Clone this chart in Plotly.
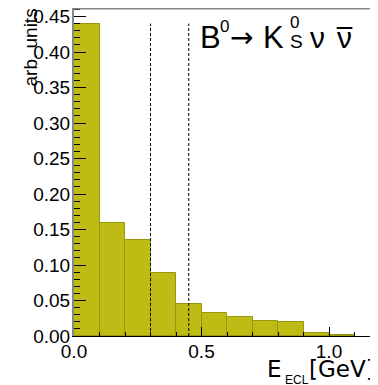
import plotly.graph_objects as go

# ---- data ----
bin_lo = [0.0, 0.1, 0.2, 0.3, 0.4, 0.5, 0.6, 0.7, 0.8, 0.9, 1.0]
bin_width = 0.1
values = [0.440, 0.159, 0.135, 0.089, 0.0455, 0.0325, 0.027, 0.021, 0.0197, 0.004, 0.0012]
cut_values = [0.30, 0.45]
cut_height = 0.44
y_ticks = [0.00, 0.05, 0.10, 0.15, 0.20, 0.25, 0.30, 0.35, 0.40, 0.45]
y_ticklabels = ["0.00", "0.05", "0.10", "0.15", "0.20", "0.25", "0.30", "0.35", "0.40", "0.45"]
x_ticks = [0.0, 0.5, 1.0]
x_ticklabels = ["0.0", "0.5", "1.0"]

# page geometry (the html body has an 8px margin)
OFF = 8
PAGE_W, PAGE_H = 378, 385
X0, X1, Y0, Y1 = 74, 378, 7.5, 336          # plot area in page pixels
W, H = PAGE_W - OFF, PAGE_H - OFF
ML, MR, MT, MB = X0 - OFF, 0, 0, H - (Y1 - OFF)
PW, PH = X1 - X0, Y1 - OFF
FONT = "Liberation Sans, Arial, sans-serif"

def px(x):
    return (x - X0) / PW

def py(y):
    return (Y1 - y) / PH

centers = [b + bin_width / 2 for b in bin_lo]

fig = go.Figure()
fig.add_trace(go.Bar(
    x=centers, y=values, width=[bin_width] * len(values),
    marker=dict(color="#BEBB14", line=dict(color="#99970E", width=1)),
    showlegend=False,
))

for c in cut_values:
    fig.add_shape(type="line", xref="x", yref="y", x0=c, x1=c, y0=0, y1=cut_height,
                  line=dict(color="black", width=1, dash="3px,2px"), layer="above")

# top frame
fig.add_shape(type="line", xref="paper", yref="paper", x0=0, x1=1, y0=1, y1=1,
              line=dict(color="#888888", width=3), layer="above")

fig.update_layout(
    width=W, height=H,
    margin=dict(l=ML, r=MR, t=MT, b=MB, pad=0, autoexpand=False),
    plot_bgcolor="white", paper_bgcolor="white",
    bargap=0,
    font=dict(family=FONT, size=19, color="black"),
    xaxis=dict(
        range=[0, PW / 255.0], showgrid=False, zeroline=False,
        showline=True, linecolor="black", linewidth=1,
        ticks="inside", ticklen=9, tickcolor="black", tickwidth=1,
        tickvals=x_ticks, ticktext=x_ticklabels,
        minor=dict(dtick=0.1, tick0=0, ticks="inside", ticklen=4, tickcolor="black", showgrid=False),
        tickfont=dict(size=19), automargin=False, ticklabeloverflow="allow",
        ticklabelstandoff=-2,
    ),
    yaxis=dict(
        range=[0, PH / 710.0], showgrid=False, zeroline=False,
        showline=True, linecolor="#888888", linewidth=2,
        ticks="inside", ticklen=12, tickcolor="black", tickwidth=1,
        tickvals=y_ticks, ticktext=y_ticklabels,
        minor=dict(dtick=0.01, tick0=0, ticks="inside", ticklen=6, tickcolor="black", showgrid=False),
        tickfont=dict(size=19), automargin=False, ticklabeloverflow="allow",
        ticklabelstandoff=-2,
    ),
)

def ann(text, x, y, size, xanchor="left", yanchor="middle", angle=0, family=FONT):
    fig.add_annotation(text=text, x=px(x), y=py(y), xref="paper", yref="paper",
                       xanchor=xanchor, yanchor=yanchor, showarrow=False,
                       textangle=angle, font=dict(family=family, size=size, color="black"))

# title pieces
ann("B", 198, 37.5, 31)
ann("0", 218, 26, 17)
ann("\u2192", 228, 38, 28, family="DejaVu Sans")
ann("K", 261, 37.5, 31)
ann("0", 288, 22.6, 17)
ann("S", 288, 42, 19)
ann("\u03bd", 308, 38, 30)
ann("\u03bd", 335, 38, 30)
ann("\u203e", 334, 40, 30, family="DejaVu Sans")

# axis titles
ann("arb. units", 30, 47.5, 19, xanchor="center", angle=-90)
ann("E", 265, 369, 23, family="DejaVu Sans")
ann("ECL", 283, 380, 12)
ann("[GeV]", 307, 369, 23, family="DejaVu Sans")

fig.write_html("out.html")
